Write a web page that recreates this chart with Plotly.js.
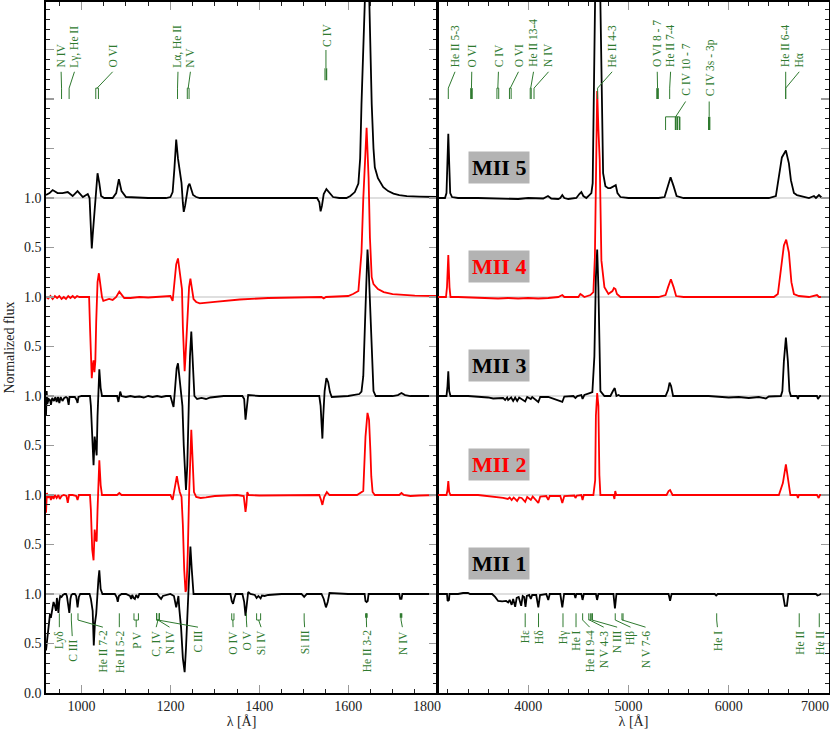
<!DOCTYPE html>
<html><head><meta charset="utf-8">
<script src="https://cdn.plot.ly/plotly-3.0.1.min.js"></script>
<style>html,body{margin:0;padding:0;background:#fff}#chart{width:830px;height:731px}</style>
</head><body><div id="chart"></div>
<script>
// ---------- DATA (normalized flux) ----------
const spectrumNames = ['MII 1','MII 2','MII 3','MII 4','MII 5'];
const spectrumOffsets = [0, 1, 2, 3, 4];
const spectrumColors = ['#000000','#ff0000','#000000','#ff0000','#000000'];

// UV panel [wavelength Å, flux]
const mii1_uv = [[920,0.43],[924,0.6],[927,0.73],[929,0.80],[931,0.76],[934,0.86],[937,0.92],[940,0.88],[942.5,0.83],[944.5,0.96],[946,0.9],[948,0.81],[950,0.93],[952,0.98],[955,0.97],[958,0.99],[962,1.0],[965,1.0],[967,0.98],[970,0.9],[972.5,0.81],[975,0.95],[977,0.99],[980,1.0],[985,1.0],[988,0.98],[991,0.865],[994,0.97],[997,1.0],[1010,1.0],[1018,1.0],[1021,0.95],[1023,0.88],[1025,0.83],[1027.5,0.48],[1030,0.7],[1033,0.8],[1035,0.97],[1038,1.15],[1040,1.24],[1043,1.05],[1047,1.0],[1075,1.0],[1079,0.97],[1081.5,0.92],[1084,0.98],[1090,1.0],[1100,1.0],[1109,0.98],[1111.6,0.95],[1114,0.99],[1117,0.96],[1120,0.95],[1123,0.99],[1127,0.96],[1130,1.0],[1170,1.0],[1175,0.97],[1179,0.95],[1183,0.98],[1200,1.0],[1208,0.98],[1211,0.88],[1213,0.865],[1216,0.93],[1218,0.98],[1220,0.85],[1224,0.66],[1228,0.35],[1232,0.21],[1235,0.45],[1239,0.83],[1242,1.2],[1245,1.48],[1248,1.25],[1252,1.0],[1258,1.0],[1300,1.0],[1335,1.0],[1338,0.93],[1341,0.9],[1344,0.96],[1347,1.0],[1362,1.0],[1366,0.92],[1369,0.78],[1372,0.92],[1375,1.02],[1380,1.0],[1390,0.99],[1394,0.96],[1398,0.98],[1403,0.955],[1406,0.985],[1412,0.98],[1420,0.99],[1450,1.0],[1495,1.0],[1501,0.97],[1507,1.0],[1540,1.0],[1545,0.95],[1550,0.865],[1554,0.92],[1558,1.01],[1600,1.0],[1637,1.0],[1639,0.93],[1641.5,0.92],[1644,0.93],[1646,1.0],[1715,1.0],[1717,0.95],[1720,0.95],[1722,1.0],[1800,1.0]];
const mii2_uv = [[920,0.82],[922,1.02],[925,0.97],[928,1.0],[931,0.95],[934,1.0],[937,0.96],[940,1.0],[944,0.97],[948,1.0],[951,0.96],[955,0.99],[960,1.0],[966,0.99],[969,0.92],[972,1.0],[980,1.0],[988,0.99],[991,0.95],[994,1.0],[1000,1.0],[1010,1.0],[1019,1.0],[1021,0.85],[1024,0.45],[1027,0.34],[1029.5,0.65],[1032,0.55],[1034,0.53],[1036,0.85],[1038,1.2],[1040,1.35],[1043,1.1],[1046,1.0],[1080,1.0],[1085,1.02],[1090,1.0],[1150,1.0],[1200,1.0],[1205,0.95],[1208,1.02],[1212,1.15],[1214.5,1.19],[1218,1.1],[1221,1.03],[1225,0.98],[1228,0.7],[1231,0.25],[1234,0.02],[1236,0.05],[1239,0.4],[1242,1.0],[1245,1.5],[1247,1.66],[1250,1.35],[1253,1.03],[1258,0.98],[1268,0.97],[1280,0.975],[1300,0.99],[1350,1.0],[1365,0.99],[1369,0.83],[1371,0.9],[1373,1.03],[1376,1.0],[1400,0.995],[1500,1.0],[1535,1.0],[1539,0.95],[1542,0.9],[1546,0.98],[1552,1.03],[1558,1.0],[1620,1.0],[1634,1.04],[1637,1.3],[1639,1.59],[1643.5,1.83],[1647,1.76],[1650,1.45],[1652,1.19],[1655,1.03],[1660,1.0],[1715,1.0],[1720,1.02],[1725,1.0],[1740,0.99],[1760,0.995],[1800,1.0]];
const mii3_uv = [[920,0.80],[921.5,1.05],[923,0.92],[926,0.97],[929,0.96],[931,0.91],[934,0.98],[938,0.95],[941,0.99],[944,0.94],[947,0.99],[950,0.93],[953,0.99],[957,0.95],[961,0.98],[965,0.99],[968,0.98],[971,0.91],[973,0.99],[980,0.99],[985,0.99],[989,0.96],[991,0.93],[993,0.99],[1000,1.0],[1010,1.0],[1019,1.0],[1021,0.9],[1024,0.5],[1027,0.30],[1029.5,0.59],[1032,0.45],[1034,0.40],[1036,0.8],[1038,1.15],[1040,1.27],[1043,1.08],[1046,1.0],[1060,1.0],[1080,1.0],[1083,0.94],[1087,1.045],[1090,1.0],[1100,0.99],[1110,1.0],[1120,0.99],[1130,0.995],[1140,0.985],[1150,1.0],[1160,0.99],[1170,1.0],[1180,0.99],[1190,1.0],[1200,1.0],[1205,0.92],[1207,0.89],[1210,1.05],[1214,1.28],[1217,1.33],[1220,1.2],[1224,1.08],[1227,0.9],[1230,0.5],[1233,0.1],[1235,0.05],[1238,0.3],[1241,0.9],[1244,1.4],[1247,1.65],[1250,1.3],[1254,1.0],[1260,0.97],[1270,0.98],[1280,0.97],[1290,0.985],[1300,0.99],[1320,1.0],[1362,1.0],[1366,0.97],[1369,0.76],[1372,0.88],[1375,1.01],[1400,1.0],[1500,1.0],[1535,1.0],[1538,0.9],[1540,0.72],[1542,0.57],[1544,0.8],[1547,1.05],[1551,1.18],[1555,1.14],[1559,1.04],[1563,0.99],[1600,1.0],[1625,1.02],[1630,1.045],[1634,1.2],[1638,1.75],[1641,2.3],[1643.5,2.48],[1646,2.3],[1649,1.95],[1651,1.75],[1654,1.3],[1657,1.05],[1662,1.0],[1700,1.0],[1712,1.01],[1720,1.03],[1728,1.01],[1740,1.0],[1800,1.0]];
const mii4_uv = [[920,1.0],[925,0.985],[930,1.01],[935,0.98],[940,1.01],[945,0.99],[950,1.01],[955,0.98],[960,1.0],[965,0.98],[970,1.01],[975,0.99],[980,1.01],[985,0.99],[990,1.01],[995,1.0],[1000,1.0],[1010,1.0],[1017,1.0],[1019,0.7],[1021,0.4],[1023,0.18],[1025,0.3],[1027,0.36],[1029,0.24],[1031,0.35],[1033,0.75],[1036,1.15],[1039,1.24],[1042,1.12],[1046,1.0],[1049,0.96],[1055,0.97],[1062,0.98],[1070,0.97],[1078,1.0],[1085,1.054],[1090,1.02],[1096,0.99],[1110,0.99],[1130,1.0],[1150,0.995],[1170,1.0],[1190,1.0],[1200,1.01],[1205,0.96],[1208,1.1],[1213,1.33],[1217,1.39],[1221,1.25],[1226,1.08],[1228,0.7],[1230,0.38],[1232,0.25],[1234,0.4],[1236,0.57],[1239,0.85],[1242,1.1],[1245,1.185],[1248,1.1],[1252,0.98],[1258,0.95],[1266,0.935],[1300,0.95],[1356,0.975],[1420,0.99],[1500,1.0],[1540,1.0],[1545,0.985],[1550,1.0],[1600,1.01],[1611,1.03],[1623,1.06],[1630,1.45],[1634,1.99],[1641.5,2.71],[1646,2.2],[1649,1.6],[1653,1.2],[1657,1.13],[1667,1.08],[1680,1.05],[1700,1.03],[1750,1.015],[1800,1.01]];
const mii5_uv = [[920,1.03],[928,1.05],[935,1.08],[946,1.05],[957,1.05],[969,1.06],[980,1.02],[991,1.07],[1003,1.01],[1014,1.04],[1018,1.0],[1020,0.8],[1023,0.49],[1025,0.62],[1027,0.75],[1031,0.98],[1036,1.25],[1040,1.15],[1044,1.02],[1051,1.0],[1060,1.0],[1070,1.0],[1078,1.05],[1084,1.19],[1090,1.07],[1100,1.01],[1150,1.0],[1190,1.0],[1200,1.01],[1205,1.06],[1209,1.30],[1213,1.59],[1217,1.40],[1221,1.28],[1225,1.15],[1228,0.95],[1230,0.86],[1233,0.92],[1236,1.01],[1240,1.12],[1243,1.145],[1247,1.09],[1251,1.03],[1258,1.01],[1266,1.0],[1300,1.0],[1400,1.0],[1500,1.0],[1530,1.0],[1535,0.96],[1538,0.865],[1541,0.92],[1545,1.04],[1551,1.09],[1557,1.06],[1566,1.01],[1580,1.0],[1596,1.0],[1605,1.02],[1615,1.06],[1623,1.145],[1627,1.4],[1630,1.95],[1634,2.6],[1638,3.3],[1642,3.6],[1646,3.3],[1650,2.4],[1653,1.95],[1657,1.5],[1660,1.31],[1667,1.2],[1674,1.14],[1679,1.11],[1690,1.07],[1702,1.045],[1715,1.03],[1732,1.02],[1760,1.015],[1800,1.01]];

// Optical panel [wavelength Å, flux]
const mii1_opt = [[3100,1.0],[3190,1.0],[3196,0.93],[3210,0.94],[3215,1.0],[3300,1.0],[3350,1.01],[3400,1.01],[3420,1.0],[3640,1.0],[3670,0.97],[3700,0.93],[3740,0.925],[3780,0.93],[3800,0.915],[3815,0.94],[3835,0.89],[3850,0.95],[3870,0.87],[3885,0.96],[3905,0.97],[3930,0.88],[3945,0.98],[3960,0.97],[3973,0.87],[3986,0.98],[4010,0.99],[4026,0.95],[4040,0.99],[4080,0.99],[4101,0.865],[4118,0.99],[4180,1.0],[4200,0.94],[4215,1.0],[4320,1.0],[4340,0.865],[4358,1.0],[4460,1.0],[4471,0.96],[4480,1.0],[4530,1.0],[4542,0.94],[4555,1.0],[4675,1.0],[4687,0.94],[4700,1.0],[4850,1.0],[4865,0.855],[4880,1.0],[5400,1.0],[5415,0.93],[5430,1.0],[5860,1.0],[5875,0.985],[5890,1.0],[6540,1.0],[6560,0.88],[6580,0.88],[6595,1.0],[6870,1.0],[6885,0.985],[6900,0.99],[6920,1.0],[7000,1.0]];
const mii2_opt = [[3100,1.0],[3185,1.0],[3195,1.05],[3203,1.14],[3212,1.03],[3225,1.0],[3500,1.0],[3600,0.99],[3650,0.98],[3700,0.975],[3750,0.97],[3797,0.96],[3815,0.975],[3835,0.95],[3855,0.975],[3889,0.94],[3910,0.975],[3935,0.97],[3970,0.93],[3990,0.98],[4026,0.95],[4045,0.985],[4101,0.92],[4120,0.985],[4180,0.99],[4200,0.95],[4215,0.99],[4320,0.99],[4340,0.92],[4360,0.99],[4460,0.995],[4471,0.97],[4485,0.995],[4530,1.0],[4542,0.95],[4555,1.0],[4650,1.0],[4668,1.15],[4675,1.8],[4688,2.03],[4700,1.9],[4710,1.2],[4720,1.0],[4850,1.0],[4860,0.96],[4868,1.04],[4878,1.0],[5380,1.0],[5400,1.04],[5415,1.05],[5440,1.0],[6500,1.0],[6540,1.12],[6570,1.31],[6595,1.12],[6615,1.0],[6680,1.0],[6690,0.97],[6700,1.0],[6880,1.0],[6897,0.97],[6910,1.0],[7000,1.0]];
const mii3_opt = [[3100,1.0],[3185,1.0],[3195,1.1],[3203,1.25],[3212,1.05],[3225,1.0],[3400,1.0],[3500,0.995],[3600,0.985],[3650,0.975],[3700,0.975],[3750,0.98],[3770,0.96],[3790,0.985],[3800,0.96],[3830,0.985],[3850,0.95],[3870,0.985],[3890,0.95],[3910,0.985],[3970,0.945],[3990,0.99],[4026,0.97],[4040,0.99],[4101,0.94],[4120,0.99],[4200,0.99],[4340,0.94],[4360,0.995],[4450,1.0],[4471,0.98],[4490,1.0],[4530,1.01],[4542,0.97],[4560,1.01],[4600,1.02],[4613,1.03],[4640,1.04],[4660,1.4],[4675,2.2],[4688,2.48],[4700,2.1],[4710,1.4],[4720,1.05],[4760,1.0],[4820,1.0],[4845,1.05],[4863,1.08],[4880,1.0],[4900,1.01],[4920,1.0],[5370,1.0],[5395,1.06],[5410,1.135],[5425,1.1],[5445,1.0],[5800,1.0],[5900,0.99],[6000,0.985],[6100,0.99],[6200,0.98],[6300,0.99],[6370,0.975],[6400,0.995],[6480,1.0],[6520,1.0],[6535,1.05],[6550,1.35],[6570,1.59],[6590,1.35],[6605,1.05],[6620,1.0],[6680,1.0],[6690,0.97],[6700,1.0],[6880,1.0],[6890,0.97],[6910,1.0],[7000,1.0]];
const mii4_opt = [[3100,1.0],[3180,1.0],[3190,1.1],[3203,1.425],[3215,1.1],[3225,1.0],[3300,1.0],[3600,0.99],[3700,0.985],[3800,0.99],[3900,0.985],[4000,0.99],[4100,0.985],[4200,0.99],[4300,1.0],[4340,1.02],[4360,1.0],[4500,1.0],[4520,1.03],[4535,1.02],[4560,1.0],[4620,1.02],[4650,1.05],[4665,1.4],[4672,2.0],[4688,3.08],[4700,2.7],[4713,2.39],[4730,1.37],[4760,1.1],[4800,1.03],[4840,1.06],[4855,1.09],[4870,1.08],[4885,1.03],[4920,1.0],[5300,1.0],[5370,1.02],[5395,1.1],[5423,1.18],[5450,1.1],[5475,1.01],[5550,1.0],[6450,1.0],[6490,1.03],[6520,1.3],[6550,1.52],[6573,1.58],[6600,1.45],[6625,1.15],[6650,1.03],[6700,1.01],[6800,1.0],[6880,1.02],[6900,1.0],[7000,1.0]];
const mii5_opt = [[3100,1.0],[3170,1.0],[3185,1.05],[3195,1.4],[3203,1.65],[3212,1.35],[3222,1.05],[3240,1.01],[3300,1.0],[3500,1.0],[3700,0.995],[3900,0.99],[4000,1.0],[4150,0.995],[4197,1.02],[4230,0.995],[4300,0.99],[4320,1.0],[4340,1.03],[4360,1.0],[4400,0.99],[4480,1.0],[4510,1.04],[4530,1.06],[4550,1.02],[4580,1.0],[4610,1.03],[4630,1.05],[4643,1.15],[4650,2.0],[4656,3.2],[4680,4.0],[4710,3.6],[4722,2.9],[4732,2.2],[4740,1.5],[4747,1.25],[4770,1.12],[4797,1.1],[4820,1.1],[4850,1.12],[4873,1.13],[4890,1.05],[4920,1.01],[5000,1.0],[5300,1.0],[5360,1.01],[5390,1.12],[5420,1.21],[5450,1.12],[5480,1.02],[5550,1.0],[6400,1.0],[6470,1.02],[6500,1.2],[6530,1.41],[6570,1.48],[6600,1.35],[6620,1.18],[6650,1.05],[6680,1.03],[6730,1.02],[6800,1.0],[6850,1.02],[6870,1.0],[6900,1.03],[6930,1.0],[7000,1.0]];

// Tick labels
const yTickVals = [0,0.5,1,1.5,2,2.5,3,3.5,4,4.5,5,5.5,6,6.5];
const yTickText = ['0.0','0.5','1.0','0.5','1.0','0.5','1.0','0.5','1.0','0.5','1.0','','',''];
const xUvTicks = [1000,1200,1400,1600,1800];
const xOptTicks = [4000,5000,6000,7000];

// Line identifications
const idTopUvText  = ['N IV','Lγ, He II','O VI','Lα, He II','N V'];
const idTopUvAt    = [954, 984, 1070, 1217, 1245];
const idTopUvLines = [[955],[972],[1032,1038],[1216],[1238,1242]];
const idTopOptText  = ['He II 5-3','O VI','C IV','O VI','He II 13-4','N IV','He II 4-3','O VI 8 - 7','He II 7-4','He II 6-4','Hα'];
const idTopOptAt    = [3270, 3437, 3703, 3903, 4053, 4203, 4837, 5287, 5420, 6568, 6703];
const idTopOptLines = [[3203],[3434],[3688,3706],[3813,3830],[4020,4030],[4058],[4692],[5290],[5411],[6568],[6568]];
const idTopOptThick = ['O VI 8 - 7'];
const idBotUvText  = ['Lyδ','C III','He II 7-2','He II 5-2','P V','C, IV','N IV','C III','O IV','O V','Si IV','Si III','He II 3-2','N IV'];
const idBotUvAt    = [950, 979, 1048, 1085, 1123, 1168, 1198, 1262, 1341, 1372, 1404, 1502, 1641.5, 1722];
const idBotUvLines = [[950],[977],[992],[1085],[1118,1128],[1169,1175],[1169,1175],[1169,1175],[1338,1343],[1371],[1394,1403],[1501],[1641],[1719]];
const idBotOptText  = ['Hε','Hδ','Hγ','He I','He II 9-4','N V 4-3','N III','Hβ','N V 7-6','He I','He II','He II'];
const idBotOptAt    = [3970, 4103, 4347, 4477, 4613, 4753, 4887, 5020, 5170, 5887, 6703, 6903];
const idBotOptLines = [[3970],[4103],[4347],[4477],[4543],[4604,4620],[4634,4641],[4868],[4935,4946],[5880],[6703],[6903]];

// ---------- BUILD ----------
const FONT = 'Liberation Serif, Times New Roman, serif';
const G = '#2f7a2f';
const traces = [];
for (let i = 4; i >= 0; i--) {
  const uv = [mii1_uv, mii2_uv, mii3_uv, mii4_uv, mii5_uv][i];
  const op = [mii1_opt, mii2_opt, mii3_opt, mii4_opt, mii5_opt][i];
  traces.push({type:'scatter', mode:'lines', name:spectrumNames[i], x:uv.map(p=>p[0]), y:uv.map(p=>p[1]+spectrumOffsets[i]),
    xaxis:'x', yaxis:'y', line:{color:spectrumColors[i], width:1.8}, hoverinfo:'skip', showlegend:false});
  traces.push({type:'scatter', mode:'lines', name:spectrumNames[i], x:op.map(p=>p[0]), y:op.map(p=>p[1]+spectrumOffsets[i]),
    xaxis:'x2', yaxis:'y2', line:{color:spectrumColors[i], width:1.8}, hoverinfo:'skip', showlegend:false});
}

const shapes = [], annotations = [];
// baseline guides
spectrumOffsets.forEach(o => shapes.push({type:'line', xref:'paper', yref:'y', x0:0, x1:1, y0:o+1, y1:o+1, layer:'below', line:{color:'#d4d4d4', width:1.5}}));

function seg(xr, yr, x0, y0, x1, y1, w) {
  shapes.push({type:'line', xref:xr, yref:yr, x0:x0, y0:y0, x1:x1, y1:y1, line:{color:G, width:w||1}});
}
function vlabel(xr, yr, x, y, text, anchor) {
  annotations.push({xref:xr, yref:yr, x:x, y:y, text:text, showarrow:false, textangle:-90, xanchor:'center', yanchor:anchor,
    borderpad:0, font:{family:FONT, size:11.5, color:G}});
}
function topId(xr, yr, text, at, lines, thick) {
  const lo = Math.min(...lines), hi = Math.max(...lines), c = (lo+hi)/2;
  seg(xr, yr, at, 6.275, c, 6.11);
  if (lines.length > 1) seg(xr, yr, lo, 6.11, hi, 6.11);
  lines.forEach(l => seg(xr, yr, l, 6.11, l, 6.0, thick ? 2.6 : 1));
  vlabel(xr, yr, at, 6.31, text, 'bottom');
}
function botId(xr, yr, text, at, lines, thick, drop) {
  const d = drop || 0;
  const lo = Math.min(...lines), hi = Math.max(...lines), c = (lo+hi)/2;
  lines.forEach(l => { if (thick) seg(xr, yr, l, 0.805, l, 0.76, 2.6); seg(xr, yr, l, 0.805, l, 0.737, 1); });
  if (lines.length > 1) seg(xr, yr, lo, 0.737, hi, 0.737);
  seg(xr, yr, c, 0.737, at, 0.665 - d);
  vlabel(xr, yr, at, 0.64 - d, text, 'top');
}
idTopUvText.forEach((t,k) => topId('x','y', t, idTopUvAt[k], idTopUvLines[k], false));
idTopOptText.forEach((t,k) => topId('x2','y2', t, idTopOptAt[k], idTopOptLines[k], idTopOptThick.includes(t) || k === 1));
idBotUvText.forEach((t,k) => botId('x','y', t, idBotUvAt[k], idBotUvLines[k], t === 'He II 3-2' || k === 13, k === 1 ? 0.09 : 0));
idBotOptText.forEach((t,k) => botId('x2','y2', t, idBotOptAt[k], idBotOptLines[k], false, 0));

// C IV 1550 (higher label)
vlabel('x','y', 1551, 6.515, 'C IV', 'bottom');
seg('x','y', 1550, 6.495, 1550, 6.31);
seg('x','y', 1548, 6.31, 1548, 6.19, 1.2); seg('x','y', 1551.5, 6.31, 1551.5, 6.19, 1.2);
// C IV 10 - 7 bracket
vlabel('x2','y2', 5570, 6.02, 'C IV 10 - 7', 'bottom');
seg('x2','y2', 5570, 5.975, 5470, 5.82);
seg('x2','y2', 5370, 5.82, 5510, 5.82);
[5370, 5470, 5487, 5510].forEach(l => seg('x2','y2', l, 5.82, l, 5.687, l === 5370 ? 1 : 1.6));
// C IV 3s - 3p
vlabel('x2','y2', 5820, 6.02, 'C IV 3s - 3p', 'bottom');
seg('x2','y2', 5805, 5.975, 5805, 5.82);
seg('x2','y2', 5805, 5.82, 5805, 5.687, 2.4);

// spectrum name boxes
spectrumNames.forEach((n,i) => annotations.push({xref:'x2', yref:'y2', x:3713, y:spectrumOffsets[i]+1.31, text:'<b>'+n+'</b>',
  showarrow:false, bgcolor:'#b3b3b3', borderpad:3, xanchor:'center', yanchor:'middle',
  font:{family:FONT, size:22, color:spectrumColors[i]}}));

// shifted edge tick labels
annotations.push({xref:'x', yref:'paper', x:1800, y:0, xshift:-10, yshift:-13, yanchor:'middle', showarrow:false, text:'1800', font:{family:FONT, size:14, color:'#222'}});
annotations.push({xref:'x2', yref:'paper', x:7000, y:0, xshift:-14, yshift:-13, yanchor:'middle', showarrow:false, text:'7000', font:{family:FONT, size:14, color:'#222'}});

const axCommon = {showline:true, linecolor:'#000', linewidth:1.6, mirror:'ticks', ticks:'inside', ticklen:8, tickwidth:1.2,
  tickcolor:'#9a9a9a', showgrid:false, zeroline:false, tickfont:{family:FONT, size:14, color:'#222'}};

const layout = {
  width:830, height:731, margin:{l:46, r:1, t:2, b:38}, paper_bgcolor:'#fff', plot_bgcolor:'#fff',
  font:{family:FONT, color:'#222'}, showlegend:false,
  xaxis: Object.assign({}, axCommon, {domain:[0,0.4994], range:[920,1800], anchor:'y', tickmode:'array', tickvals:xUvTicks,
    ticktext:xUvTicks.map(v => v === 1800 ? '' : String(v)),
    minor:{tickmode:'linear', tick0:1000, dtick:50, ticks:'inside', ticklen:4, tickcolor:'#222', tickwidth:1},
    title:{text:'λ [Å]', font:{family:FONT, size:14}, standoff:2}}),
  xaxis2: Object.assign({}, axCommon, {domain:[0.5006,1], range:[3100,7000], anchor:'y2', tickmode:'array', tickvals:xOptTicks,
    ticktext:xOptTicks.map(v => v === 7000 ? '' : String(v)),
    minor:{tickmode:'linear', tick0:4000, dtick:200, ticks:'inside', ticklen:4, tickcolor:'#222', tickwidth:1},
    title:{text:'λ [Å]', font:{family:FONT, size:14}, standoff:2}}),
  yaxis: Object.assign({}, axCommon, {domain:[0,1], range:[0,6.98], anchor:'x', tickmode:'array', tickvals:yTickVals, ticktext:yTickText,
    minor:{tickmode:'linear', tick0:0, dtick:0.1, ticks:'inside', ticklen:4, tickcolor:'#222', tickwidth:1},
    title:{text:'Normalized flux', font:{family:FONT, size:14}, standoff:6}}),
  yaxis2: Object.assign({}, axCommon, {domain:[0,1], range:[0,6.98], anchor:'x2', side:'right', mirror:true, tickmode:'array',
    tickvals:yTickVals, showticklabels:false,
    minor:{tickmode:'linear', tick0:0, dtick:0.1, ticks:'inside', ticklen:4, tickcolor:'#222', tickwidth:1}}),
  shapes: shapes, annotations: annotations
};
Plotly.newPlot('chart', traces, layout, {staticPlot:true, displayModeBar:false});
</script>
</body></html>
